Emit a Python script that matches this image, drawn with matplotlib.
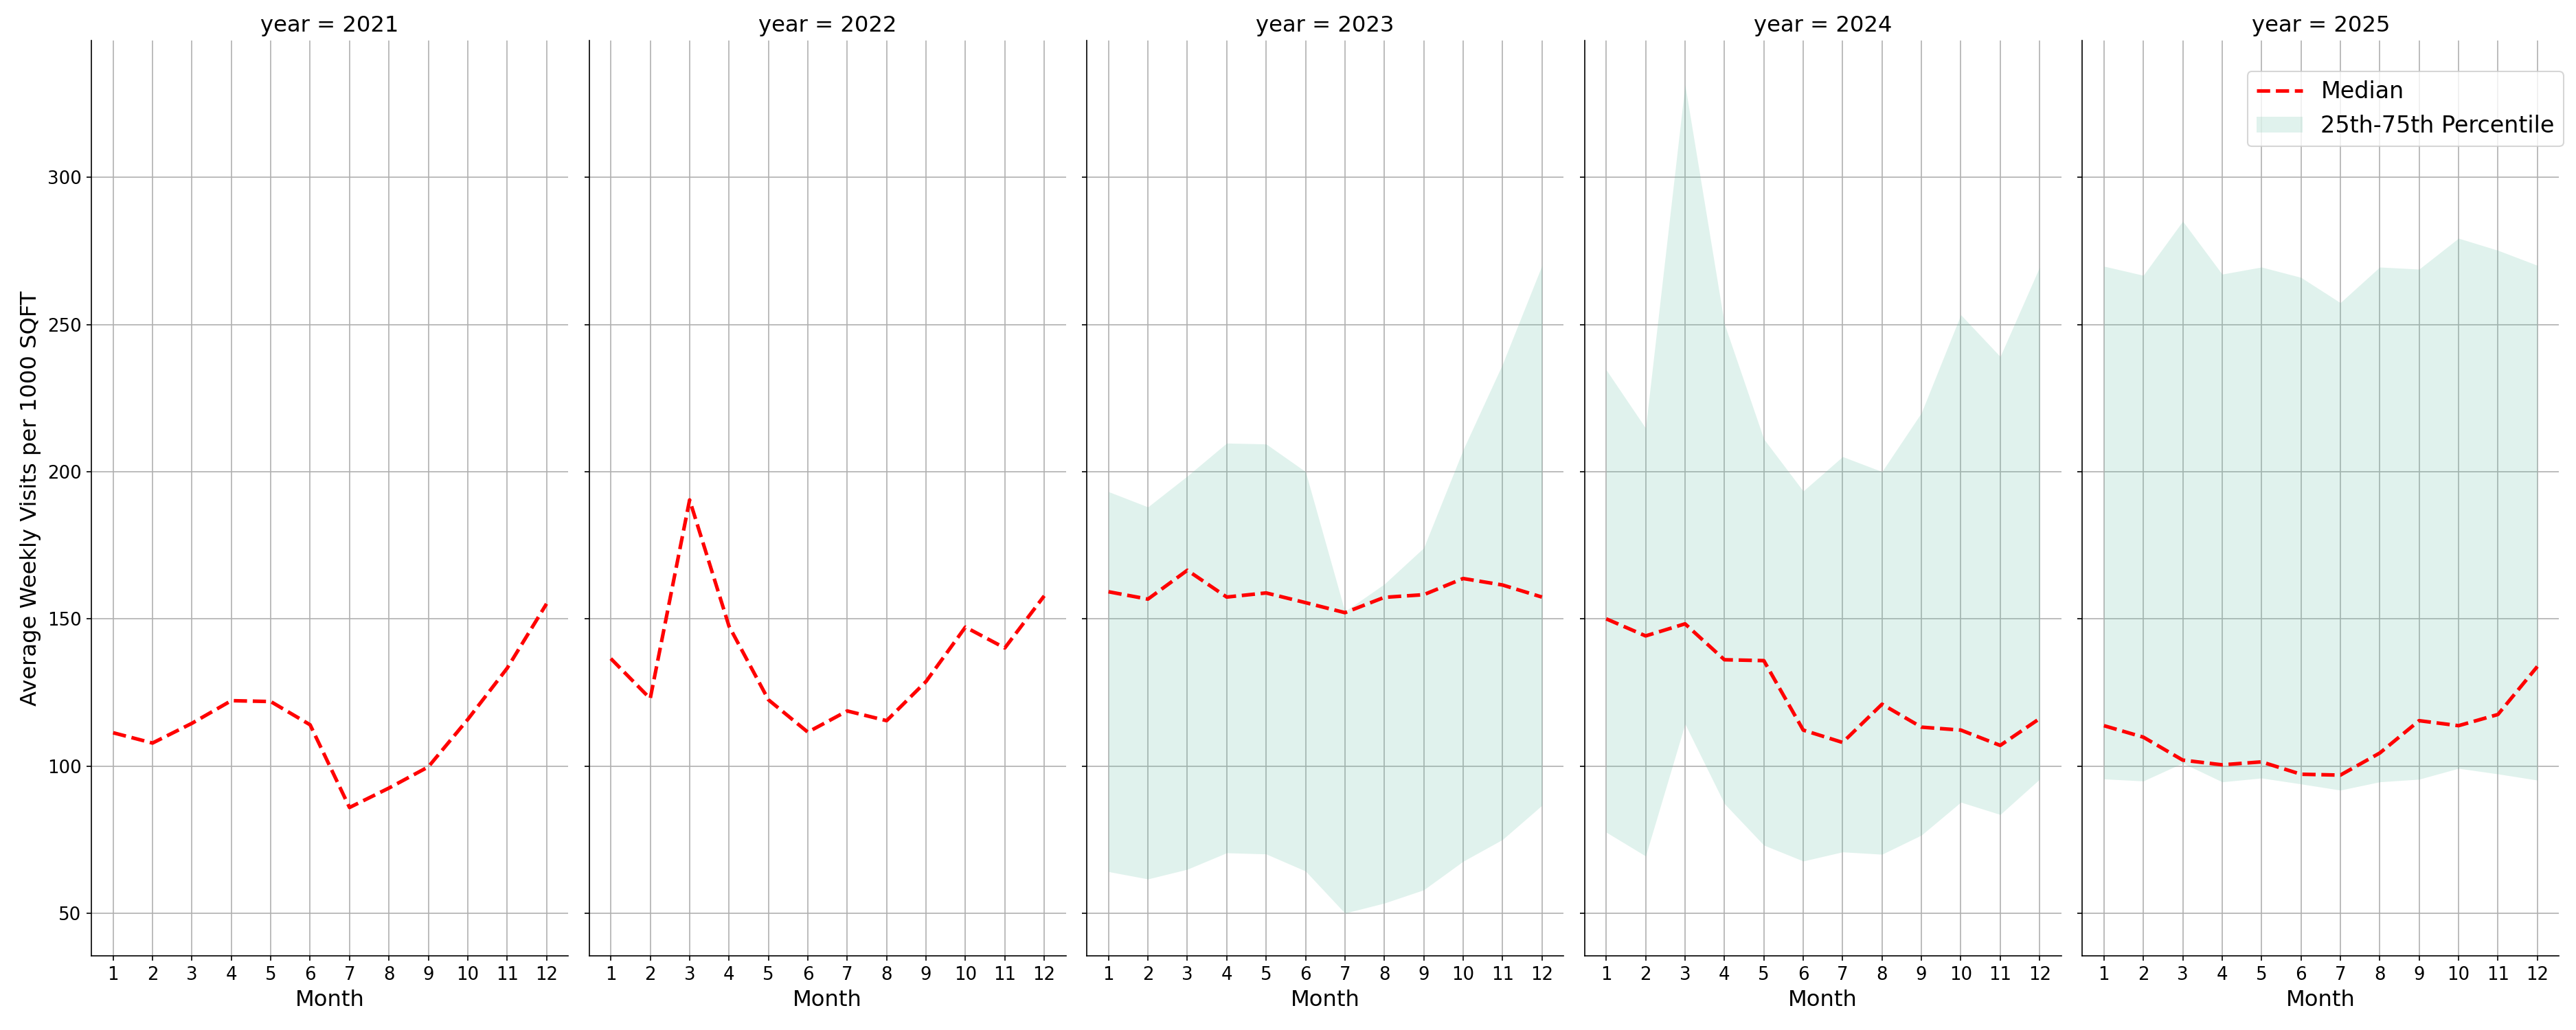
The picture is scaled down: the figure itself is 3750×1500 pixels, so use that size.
import numpy as np
import matplotlib
matplotlib.use("Agg")
import matplotlib.pyplot as plt

months = np.arange(1, 13)
years = [2021, 2022, 2023, 2024, 2025]

median_2021 = [111.3, 107.8, 114.5, 122.2, 121.9, 114.0, 85.9, 92.5, 99.7, 115.8, 133.2, 155.1]
median_2022 = [136.5, 122.9, 190.4, 147.5, 122.5, 111.5, 118.7, 115.4, 128.7, 147.2, 140.1, 157.8]
median_2023 = [159.2, 156.7, 166.5, 157.4, 158.8, 155.5, 152.1, 157.3, 158.2, 163.7, 161.5, 157.4]
median_2024 = [150.0, 144.2, 148.3, 136.1, 135.8, 112.2, 108.0, 121.0, 113.2, 112.2, 107.0, 116.1]
median_2025 = [113.7, 109.8, 102.0, 100.4, 101.4, 97.2, 96.9, 104.4, 115.4, 113.7, 117.5, 133.8]

q25_2023 = [64.1, 61.6, 64.9, 70.5, 70.1, 64.3, 50.0, 53.4, 57.9, 67.6, 75.0, 86.6]
q75_2023 = [193.2, 188.0, 198.5, 209.7, 209.4, 200.0, 152.5, 161.8, 174.1, 207.4, 236.5, 270.0]
q25_2024 = [77.5, 69.4, 114.3, 87.2, 73.1, 67.7, 70.8, 70.0, 76.5, 87.7, 83.5, 95.5]
q75_2024 = [234.6, 214.8, 331.5, 250.2, 211.1, 193.4, 205.1, 200.0, 220.0, 253.3, 239.1, 269.5]
q25_2025 = [95.6, 94.9, 101.0, 94.6, 95.9, 93.9, 91.8, 94.6, 95.5, 99.2, 97.3, 95.2]
q75_2025 = [269.8, 266.7, 285.1, 267.1, 269.5, 266.0, 257.4, 269.5, 268.8, 279.3, 275.2, 270.1]

medians = [median_2021, median_2022, median_2023, median_2024, median_2025]
q25s = [None, None, q25_2023, q25_2024, q25_2025]
q75s = [None, None, q75_2023, q75_2024, q75_2025]

fig, axes = plt.subplots(1, 5, figsize=(25, 10), dpi=150, sharey=True)
plt.subplots_adjust(left=0.0355, right=0.9934, bottom=0.072, top=0.9607, wspace=0.044)

for i, ax in enumerate(axes):
    ax.grid(True, color="#b0b0b0", linewidth=0.8)
    ax.set_axisbelow(True)
    ax.plot(months, medians[i], color="red", linestyle="--", linewidth=2.5, label="Median")
    if q25s[i] is not None:
        ax.fill_between(months, q25s[i], q75s[i], color="#66c2a5", alpha=0.2,
                        linewidth=0, label="25th-75th Percentile")
    ax.set_title("year = %d" % years[i], fontsize=15.5)
    ax.set_xlabel("Month", fontsize=15.5)
    ax.set_xticks(months)
    ax.tick_params(labelsize=12.5)
    ax.spines["top"].set_visible(False)
    ax.spines["right"].set_visible(False)
    ax.set_ylim(35.5, 346.5)

axes[0].set_ylabel("Average Weekly Visits per 1000 SQFT", fontsize=15.5)
axes[0].set_yticks([50, 100, 150, 200, 250, 300])

axes[-1].legend(loc="upper right", bbox_to_anchor=(0.9952, 0.9307),
                bbox_transform=fig.transFigure, borderaxespad=0, fontsize=16)

plt.savefig("out.png", dpi=150)
